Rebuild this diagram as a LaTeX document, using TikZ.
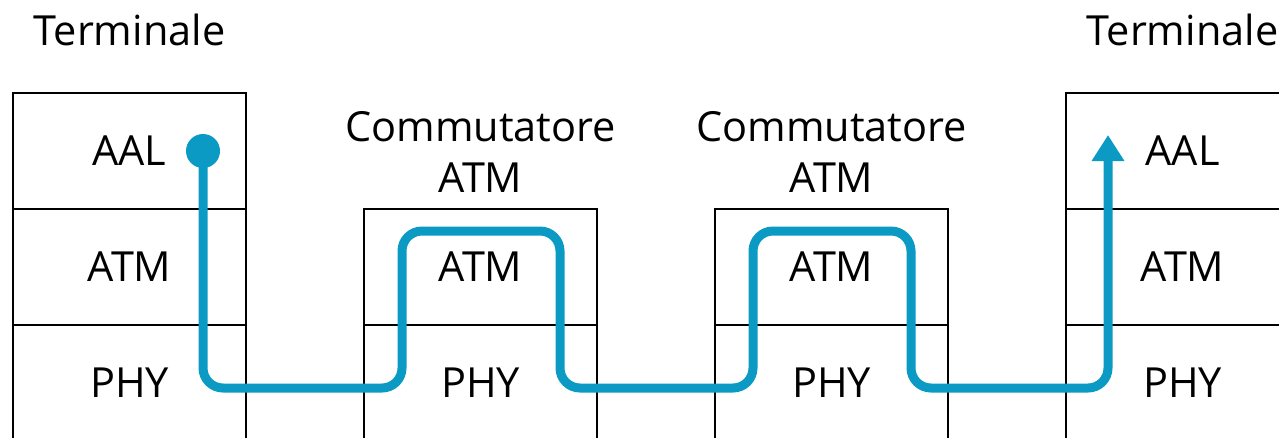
\documentclass[tikz,border=0pt]{standalone}
\usepackage{fontspec}
\setmainfont{Open Sans}
\usepackage{tikz}
\usetikzlibrary{arrows.meta,positioning}
\definecolor{linkblue}{HTML}{0A9AC4}
\tikzset{
  layerbox/.style={
    draw=black,
    line width=1.1pt,
    minimum width=4.66cm,
    minimum height=2.32cm,
    outer sep=0pt,
    inner sep=0pt,
    font=\fontsize{23.6}{29}\selectfont
  },
  stacktitle/.style={
    align=center,
    inner sep=0pt,
    font=\fontsize{23.6}{29}\selectfont
  },
  srcdot/.style={
    circle,
    fill=linkblue,
    minimum size=0.68cm,
    inner sep=0pt
  },
  datapath/.style={
    -{Triangle[length=0.52cm,width=0.62cm]},
    line width=0.18cm,
    draw=linkblue,
    rounded corners=0.4cm
  }
}
\begin{document}
\begin{tikzpicture}
    \useasboundingbox (0,0) rectangle (25.58,-8.74);
    \clip (0,0) rectangle (25.58,-8.74);

    \node[layerbox] (t1aal) at (2.59,-3.02) {AAL};
    \node[layerbox, below=0pt of t1aal] (t1atm) {ATM};
    \node[layerbox, below=0pt of t1atm] (t1phy) {PHY};

    \node[layerbox, right=2.36cm of t1atm] (s1atm) {ATM};
    \node[layerbox, below=0pt of s1atm] (s1phy) {PHY};

    \node[layerbox, right=2.36cm of s1atm] (s2atm) {ATM};
    \node[layerbox, below=0pt of s2atm] (s2phy) {PHY};

    \node[layerbox, right=2.36cm of s2atm] (t2atm) {ATM};
    \node[layerbox, above=0pt of t2atm] (t2aal) {AAL};
    \node[layerbox, below=0pt of t2atm] (t2phy) {PHY};

    \node[stacktitle, anchor=base] (t1name) at ([yshift=0.96cm]t1aal.north) {Terminale};
    \node[stacktitle, anchor=base] (t2name) at ([yshift=0.96cm]t2aal.north) {Terminale};
    \node[stacktitle, above=0.32cm of s1atm] (s1name) {Commutatore\\ATM};
    \node[stacktitle, above=0.32cm of s2atm] (s2name) {Commutatore\\ATM};

    % cell path through the switches
    \node[srcdot] (src) at ([xshift=1.47cm]t1aal.center) {};
    \coordinate (low) at ([yshift=-0.1cm]t1phy.center);
    \coordinate (s1up) at ([xshift=-1.57cm,yshift=0.72cm]s1atm.center);
    \coordinate (s1down) at ([xshift=1.59cm,yshift=0.72cm]s1atm.center);
    \coordinate (s2up) at ([xshift=-1.57cm,yshift=0.72cm]s2atm.center);
    \coordinate (s2down) at ([xshift=1.59cm,yshift=0.72cm]s2atm.center);
    \coordinate (dst) at ([xshift=-1.49cm,yshift=0.32cm]t2aal.center);

    \draw[datapath] (src.center) |- (s1up |- low) -- (s1up) -- (s1down) -- (s1down |- low)
        -| (s2up) -- (s2down) -- (s2down |- low) -| (dst);
\end{tikzpicture}
\end{document}
